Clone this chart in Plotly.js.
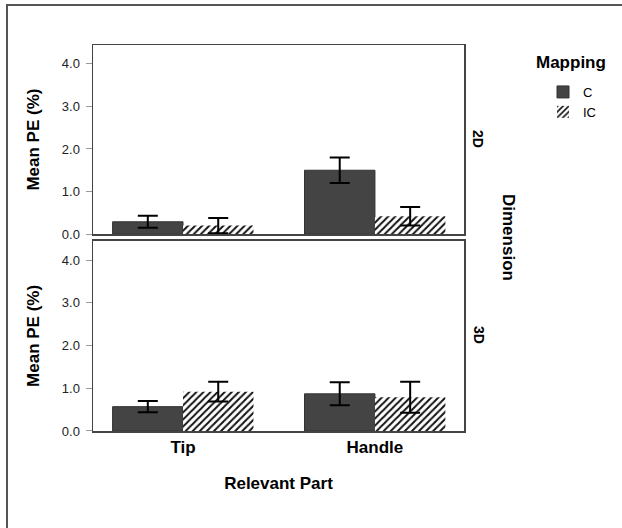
<!DOCTYPE html>
<html>
<head>
<meta charset="utf-8">
<script src="https://cdn.plot.ly/plotly-3.0.1.min.js"></script>
<style>html,body{margin:0;padding:0;background:#fff;}#chart{width:622px;height:528px;}</style>
</head>
<body>
<div id="chart"></div>
<script>
// ---- data ----
const parts = ["Tip", "Handle"];
const mappings = ["C", "IC"];
const dims = ["2D", "3D"];
const mean2D_C = [0.29, 1.50];
const err2D_C = [0.14, 0.30];
const mean2D_IC = [0.20, 0.42];
const err2D_IC = [0.18, 0.22];
const mean3D_C = [0.57, 0.87];
const err3D_C = [0.13, 0.27];
const mean3D_IC = [0.92, 0.79];
const err3D_IC = [0.23, 0.36];
const yTickVals = [0, 1, 2, 3, 4];
const yTickText = ["0.0", "1.0", "2.0", "3.0", "4.0"];

// ---- geometry helpers (pixel -> paper) ----
const W = 622, H = 528;
const M = {l: 93, r: 158, t: 45, b: 97};
const PW = W - M.l - M.r, PH = H - M.t - M.b;
const px = x => (x - M.l) / PW;
const py = y => 1 - (y - M.t) / PH;

const FONT = "Liberation Sans, Arial, sans-serif";
const darkFill = "#444444";

function barC(y, e, xa, ya, showleg) {
  return {
    type: "bar", name: mappings[0], x: parts, y: y,
    xaxis: xa, yaxis: ya, legendgroup: "C", showlegend: showleg,
    marker: {color: darkFill, line: {color: "#333333", width: 1}},
    error_y: {type: "data", array: e, visible: true, color: "#000", thickness: 2, width: 10},
    hoverinfo: "skip"
  };
}
function barIC(y, e, xa, ya, showleg) {
  return {
    type: "bar", name: mappings[1], x: parts, y: y,
    xaxis: xa, yaxis: ya, legendgroup: "IC", showlegend: showleg,
    marker: {color: "#ffffff", line: {color: "#ffffff", width: 0},
      pattern: {shape: "/", fgcolor: "#111111", bgcolor: "#ffffff", size: 5, solidity: 0.4}},
    error_y: {type: "data", array: e, visible: true, color: "#000", thickness: 2, width: 10},
    hoverinfo: "skip"
  };
}

const data = [
  barC(mean2D_C, err2D_C, "x2", "y", true),
  barIC(mean2D_IC, err2D_IC, "x2", "y", true),
  barC(mean3D_C, err3D_C, "x", "y2", false),
  barIC(mean3D_IC, err3D_IC, "x", "y2", false)
];

const xr = [-0.469, 1.464];
const yAxisCommon = {
  tickvals: yTickVals, ticktext: yTickText,
  ticks: "outside", ticklen: 6, tickcolor: "#999", tickwidth: 1,
  tickfont: {family: FONT, size: 13, color: "#222"},
  ticklabelstandoff: 3,
  showgrid: false, zeroline: false,
  showline: true, linecolor: "#444", linewidth: 1.5, mirror: true,
  title: {text: "Mean PE (%)", standoff: 18, font: {family: FONT, size: 17, weight: "bold", color: "#000"}}
};

const layout = {
  width: W, height: H,
  margin: M,
  paper_bgcolor: "#fff", plot_bgcolor: "#fff",
  barmode: "group", bargap: 0.266, bargroupgap: 0,
  showlegend: true,
  legend: {
    x: px(543), y: py(77), xanchor: "left", yanchor: "top",
    font: {family: FONT, size: 13, color: "#000"},
    tracegroupgap: 0, traceorder: "normal", bgcolor: "rgba(0,0,0,0)"
  },
  xaxis: {
    anchor: "y2", domain: [0, 1], type: "category", range: xr,
    showline: true, linecolor: "#444", linewidth: 1.5, mirror: true,
    ticks: "", showgrid: false, zeroline: false,
    tickfont: {family: FONT, size: 17, weight: "bold", color: "#000"},
    title: {text: "Relevant Part", standoff: 21, font: {family: FONT, size: 17, weight: "bold", color: "#000"}}
  },
  xaxis2: {
    anchor: "y", domain: [0, 1], type: "category", range: xr, matches: "x",
    showline: true, linecolor: "#444", linewidth: 1.5, mirror: true,
    ticks: "", showticklabels: false, showgrid: false, zeroline: false
  },
  yaxis: Object.assign({}, yAxisCommon, {anchor: "x2", domain: [0.51, 1], range: [0, 4.44]}),
  yaxis2: Object.assign({}, yAxisCommon, {anchor: "x", domain: [0, 0.4926], range: [0, 4.45]}),
  annotations: [
    {text: dims[0], xref: "paper", yref: "paper", x: px(478), y: py(139), showarrow: false,
     textangle: 90, xanchor: "center", yanchor: "middle",
     font: {family: FONT, size: 14, weight: "bold", color: "#000"}},
    {text: dims[1], xref: "paper", yref: "paper", x: px(479), y: py(335), showarrow: false,
     textangle: 90, xanchor: "center", yanchor: "middle",
     font: {family: FONT, size: 14, weight: "bold", color: "#000"}},
    {text: "Dimension", xref: "paper", yref: "paper", x: px(509), y: py(237), showarrow: false,
     textangle: 90, xanchor: "center", yanchor: "middle",
     font: {family: FONT, size: 17, weight: "bold", color: "#000"}},
    {text: "Mapping", xref: "paper", yref: "paper", x: px(571), y: py(63), showarrow: false,
     xanchor: "center", yanchor: "middle",
     font: {family: FONT, size: 17, weight: "bold", color: "#000"}}
  ],
  shapes: [
    {type: "line", xref: "paper", yref: "paper", x0: px(7), x1: px(7), y0: py(5), y1: py(530),
     line: {color: "#555", width: 2}},
    {type: "line", xref: "paper", yref: "paper", x0: px(6), x1: px(625), y0: py(5), y1: py(5),
     line: {color: "#555", width: 2}}
  ]
};

Plotly.newPlot("chart", data, layout, {staticPlot: true, displayModeBar: false});
</script>
</body>
</html>
